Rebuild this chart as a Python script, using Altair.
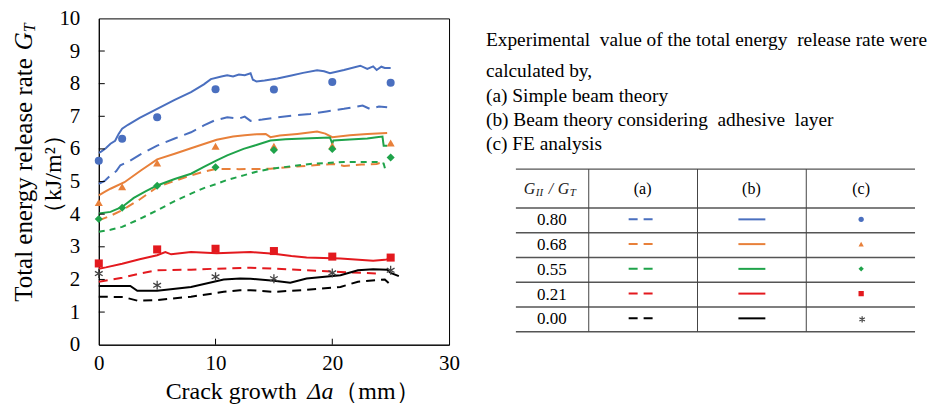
import altair as alt
import pandas as pd

FONT = "Liberation Serif"
W, H = 351, 327

ratios = ["0.80", "0.68", "0.55", "0.21", "0.00"]
line_colors = ["#4A6FBF", "#E8803A", "#1FA34A", "#E3191E", "#000000"]
point_colors = ["#2E75B6", "#E8803A", "#1FA34A", "#E3191E", "#444444"]
dash_patterns = [[13, 7], [9, 6], [6, 5], [9, 6], [9, 6]]

# ---- (b) beam theory considering adhesive layer (solid lines) ----
b080_x = [0, 0.2, 0.6, 1.0, 1.4, 1.7, 2.0, 2.5, 3.5, 5.0, 6.5, 7.9, 9.0, 9.6, 10.5, 11.0, 11.5, 12.0, 12.5, 13.0, 13.2, 13.5, 14.2, 15.3, 16.5, 17.5, 18.7, 19.3, 19.8, 21.0, 22.4, 23.0, 23.5, 23.8, 24.2, 24.5, 25.0]
b080_y = [5.88, 5.92, 6.02, 6.16, 6.25, 6.46, 6.62, 6.74, 6.95, 7.23, 7.5, 7.74, 7.98, 8.14, 8.22, 8.26, 8.22, 8.28, 8.26, 8.32, 8.12, 8.07, 8.10, 8.16, 8.25, 8.33, 8.41, 8.38, 8.32, 8.42, 8.55, 8.45, 8.53, 8.42, 8.52, 8.48, 8.48]
b068_x = [0, 0.5, 1.0, 2.2, 3.6, 5.0, 6.5, 7.9, 9.0, 10.1, 11.5, 12.5, 13.5, 14.3, 14.7, 15.5, 17.0, 18.7, 19.4, 20.0, 21.5, 23.0, 24.7]
b068_y = [4.58, 4.68, 4.78, 4.98, 5.34, 5.68, 5.85, 6.02, 6.15, 6.28, 6.38, 6.42, 6.45, 6.46, 6.36, 6.41, 6.46, 6.53, 6.47, 6.36, 6.42, 6.46, 6.49]
b055_x = [0, 1.0, 2.0, 3.0, 4.0, 5.0, 6.5, 7.9, 9.0, 10.1, 11.0, 12.4, 13.5, 14.7, 16.0, 18.1, 19.8, 20.0, 20.1, 21.5, 23.0, 23.8, 24.3, 24.4, 24.7]
b055_y = [4.02, 4.07, 4.22, 4.5, 4.7, 4.88, 5.08, 5.24, 5.45, 5.65, 5.8, 6.0, 6.12, 6.26, 6.3, 6.33, 6.35, 6.16, 6.26, 6.29, 6.32, 6.36, 6.38, 6.1, 6.1]
b021_x = [0, 0.6, 2.0, 3.5, 5.0, 5.7, 6.2, 7.9, 10.1, 13.0, 15.0, 16.5, 17.8, 20.7, 23.5, 24.5, 25.0]
b021_y = [2.33, 2.37, 2.48, 2.62, 2.74, 2.84, 2.77, 2.84, 2.8, 2.84, 2.79, 2.72, 2.67, 2.64, 2.57, 2.6, 2.64]
b000_x = [0, 2.7, 3.3, 5.0, 7.9, 10.7, 12.1, 13.0, 15.0, 16.4, 17.8, 20.7, 22.2, 23.5, 24.7, 25.0, 25.7]
b000_y = [1.8, 1.8, 1.65, 1.65, 1.77, 2.0, 2.03, 2.02, 1.96, 1.9, 2.03, 2.13, 2.28, 2.31, 2.3, 2.2, 2.1]

# ---- (a) simple beam theory (dashed lines) ----
a080_x = [0, 0.5, 1.0, 1.5, 1.85, 2.5, 3.5, 5.0, 6.5, 7.9, 9.0, 9.9, 11.0, 12.0, 12.5, 13.0, 14.0, 15.3, 16.5, 18.1, 19.5, 21.0, 22.6, 23.2, 24.0, 24.7]
a080_y = [4.93, 5.02, 5.19, 5.32, 5.5, 5.6, 5.82, 6.1, 6.32, 6.51, 6.72, 6.87, 6.97, 6.93, 6.99, 6.86, 6.9, 6.97, 7.02, 7.07, 7.15, 7.23, 7.33, 7.23, 7.3, 7.28]
a068_x = [0, 1.0, 2.0, 3.5, 5.0, 6.5, 7.9, 9.0, 10.1, 12.0, 14.7, 16.5, 18.1, 20.1, 21.0, 22.5, 23.8, 24.4]
a068_y = [3.81, 3.95, 4.12, 4.45, 4.83, 5.02, 5.19, 5.3, 5.39, 5.38, 5.39, 5.45, 5.49, 5.54, 5.48, 5.52, 5.54, 5.6]
a055_x = [0, 1.0, 2.0, 3.5, 5.0, 6.5, 7.9, 9.0, 10.1, 11.0, 12.4, 13.5, 14.7, 16.5, 18.1, 21.0, 23.8, 24.4, 24.6]
a055_y = [3.46, 3.52, 3.61, 3.85, 4.12, 4.4, 4.63, 4.8, 4.93, 5.05, 5.19, 5.3, 5.39, 5.47, 5.54, 5.6, 5.6, 5.55, 5.29]
a021_x = [0, 2.0, 3.5, 5.0, 7.9, 10.1, 13.0, 15.0, 17.8, 20.7, 24.0]
a021_y = [1.93, 2.05, 2.18, 2.28, 2.3, 2.33, 2.36, 2.33, 2.28, 2.23, 2.18]
a000_x = [0, 2.1, 3.3, 5.0, 7.9, 10.7, 12.1, 13.0, 15.0, 17.8, 20.7, 22.2, 24.5, 24.9]
a000_y = [1.47, 1.46, 1.35, 1.37, 1.47, 1.62, 1.67, 1.67, 1.62, 1.68, 1.77, 1.93, 2.0, 1.87]

# ---- (c) FE analysis (markers) ----
fe_x_a = [0, 2, 5, 10, 15, 20, 25]
fe080 = [5.64, 6.31, 6.97, 7.83, 7.82, 8.05, 8.03]
fe068 = [4.36, 4.84, 5.57, 6.08, 6.08, 6.1, 6.18]
fe055 = [3.85, 4.2, 4.87, 5.44, 5.97, 6.0, 5.74]
fe_x_b = [0, 5, 10, 15, 20, 25]
fe021 = [2.49, 2.92, 2.94, 2.87, 2.70, 2.67]
fe000 = [2.18, 1.82, 2.08, 2.02, 2.2, 2.28]

x_ticks = [0, 10, 20, 30]
y_ticks = list(range(0, 11))

text_lines = [
    "Experimental\u00a0 value of the total energy\u00a0 release rate were",
    "calculated by,",
    "(a) Simple beam theory",
    "(b) Beam theory considering\u00a0 adhesive\u00a0 layer",
    "(c) FE analysis",
]
col_headers = ["(a)", "(b)", "(c)"]

ASTERISK = "M0,-1L0,1M-0.87,-0.5L0.87,0.5M-0.87,0.5L0.87,-0.5"


def series_rows(ratio, xs, ys):
    return [dict(ratio=ratio, i=i, x=x, G=g) for i, (x, g) in enumerate(zip(xs, ys))]


solid_df = pd.DataFrame(
    series_rows("0.80", b080_x, b080_y) + series_rows("0.68", b068_x, b068_y)
    + series_rows("0.55", b055_x, b055_y) + series_rows("0.21", b021_x, b021_y)
    + series_rows("0.00", b000_x, b000_y))
dash_df = pd.DataFrame(
    series_rows("0.80", a080_x, a080_y) + series_rows("0.68", a068_x, a068_y)
    + series_rows("0.55", a055_x, a055_y) + series_rows("0.21", a021_x, a021_y)
    + series_rows("0.00", a000_x, a000_y))
fe_df = pd.DataFrame(
    series_rows("0.80", fe_x_a, fe080) + series_rows("0.68", fe_x_a, fe068)
    + series_rows("0.55", fe_x_a, fe055) + series_rows("0.21", fe_x_b, fe021))
fe0_df = pd.DataFrame(series_rows("0.00", fe_x_b, fe000))

X_AX = alt.Axis(values=x_ticks, tickSize=0, labelFont=FONT, labelFontSize=21, labelColor="black",
                labelPadding=8, domainColor="black", grid=False, title=None, labelFlush=False)
Y_AX = alt.Axis(values=y_ticks, tickSize=0, labelFont=FONT, labelFontSize=21, labelColor="black",
                labelPadding=19, domainColor="black", grid=False, title=None, labelFlush=False)


def XE():
    return alt.X("x:Q", scale=alt.Scale(domain=[0, 30], nice=False, zero=False), axis=X_AX)


def YE():
    return alt.Y("G:Q", scale=alt.Scale(domain=[0, 10], nice=False, zero=False), axis=Y_AX)


col_scale = alt.Scale(domain=ratios, range=line_colors)
pcol_scale = alt.Scale(domain=ratios, range=point_colors)

solid = alt.Chart(solid_df).mark_line(strokeWidth=2).encode(
    x=XE(), y=YE(), color=alt.Color("ratio:N", scale=col_scale, legend=None),
    detail="ratio:N", order="i:Q")
dashed = alt.Chart(dash_df).mark_line(strokeWidth=2).encode(
    x=XE(), y=YE(), color=alt.Color("ratio:N", scale=col_scale, legend=None),
    strokeDash=alt.StrokeDash("ratio:N", scale=alt.Scale(domain=ratios, range=dash_patterns), legend=None),
    detail="ratio:N", order="i:Q")
pts = alt.Chart(fe_df).mark_point(filled=True, size=65, opacity=1).encode(
    x=XE(), y=YE(), color=alt.Color("ratio:N", scale=pcol_scale, legend=None),
    shape=alt.Shape("ratio:N", scale=alt.Scale(domain=ratios[:4], range=["circle", "triangle-up", "diamond", "square"]), legend=None))
pts0 = alt.Chart(fe0_df).mark_point(shape=ASTERISK, filled=False, size=80, stroke="#444444",
                                     strokeWidth=1.3, opacity=1).encode(x=XE(), y=YE())

ytick_df = pd.DataFrame({"G": y_ticks[1:-1]})
xtick_df = pd.DataFrame({"x": [10, 20]})
yt = alt.Chart(ytick_df).mark_rule(color="black", strokeWidth=1).encode(
    y=YE(), x=alt.value(0), x2=alt.value(6))
xt = alt.Chart(xtick_df).mark_rule(color="black", strokeWidth=1).encode(
    x=XE(), y=alt.value(H), y2=alt.value(H - 6))


def label(txt, px, py, size=24, style="normal", angle=0, align="left", baseline="middle"):
    return alt.Chart(pd.DataFrame({"k": [0]})).mark_text(
        text=txt, font=FONT, fontSize=size, fontStyle=style, angle=angle, align=align,
        baseline=baseline, color="black").encode(x=alt.value(px), y=alt.value(py))


titles = [
    label("Crack growth", 67, 374),
    label("\u0394a", 209, 374, style="italic"),
    label("\uff08mm\uff09", 236, 374),
    label("Total energy release rate", -75, 284, size=25, angle=270),
    label("G", -75, 32, size=25, style="italic", angle=270),
    label("T", -69, 14, size=16, style="italic", angle=270),
    label("\uff08kJ/m\u00b2\uff09", -45, 156, angle=270, align="center"),
]

left = alt.layer(dashed, solid, pts, pts0, yt, xt, *titles).properties(
    width=W, height=H, view=alt.ViewBackground(stroke="black", strokeWidth=1))

# ---------------- right panel: explanatory text and legend table ----------------
RX = alt.X("px:Q", scale=alt.Scale(domain=[470, 931], nice=False, zero=False), axis=None)
RY = alt.Y("py:Q", scale=alt.Scale(domain=[16, 407], nice=False, zero=False, reverse=True), axis=None)

TEXT_X = 486
text_y = [38, 69, 94, 118, 142]
para_df = pd.DataFrame({"px": [TEXT_X] * len(text_lines), "py": text_y, "txt": text_lines})

T_LEFT, T_RIGHT, T_TOP, T_HEAD, ROW_H = 516, 916, 167, 206, 24.8
col_div = [589, 698, 807]
col_cent = [552, 643, 752, 862]
row_c = [T_HEAD + (i + 0.5) * ROW_H for i in range(len(ratios))]
head_c = (T_TOP + T_HEAD) / 2

hl_df = pd.DataFrame({"px": T_LEFT, "px2": T_RIGHT,
                      "py": [T_TOP, T_HEAD] + [T_HEAD + (i + 1) * ROW_H for i in range(len(ratios))]})
vl_df = pd.DataFrame({"px": col_div, "py": T_TOP, "py2": T_HEAD + len(ratios) * ROW_H})
cell_df = pd.DataFrame({"px": col_cent[1:] + [col_cent[0]] * len(ratios),
                        "py": [head_c] * 3 + row_c,
                        "txt": col_headers + ratios,
                        "size": [16] * 3 + [17] * len(ratios)})
head_it_df = pd.DataFrame({"px": [524, 536, 558, 570], "py": [head_c, head_c + 4, head_c, head_c + 4],
                           "txt": ["G", "II", "G", "T"], "size": [16, 11, 16, 11]})
slash_df = pd.DataFrame({"px": [549], "py": [head_c], "txt": ["/"]})
samp_a = pd.DataFrame({"px": col_cent[1] - 14, "px2": col_cent[1] + 12, "py": [r - 1 for r in row_c], "ratio": ratios})
samp_b = pd.DataFrame({"px": col_cent[2] - 13, "px2": col_cent[2] + 14, "py": [r - 1 for r in row_c], "ratio": ratios})
samp_c = pd.DataFrame({"px": col_cent[3], "py": [r - 1 for r in row_c[:4]], "ratio": ratios[:4]})
samp_c0 = pd.DataFrame({"px": [col_cent[3] + 1], "py": [row_c[4]]})

r_para = alt.Chart(para_df).mark_text(align="left", baseline="middle", font=FONT, fontSize=19.4, color="black").encode(
    x=RX, y=RY, text="txt:N")
r_cells = alt.Chart(cell_df).mark_text(align="center", baseline="middle", font=FONT, color="black").encode(
    x=RX, y=RY, text="txt:N", size=alt.Size("size:Q", scale=None))
r_head = alt.Chart(head_it_df).mark_text(align="left", baseline="middle", font=FONT, fontStyle="italic", color="#222").encode(
    x=RX, y=RY, text="txt:N", size=alt.Size("size:Q", scale=None))
r_slash = alt.Chart(slash_df).mark_text(align="left", baseline="middle", font=FONT, fontStyle="italic", fontSize=16, color="#222").encode(
    x=RX, y=RY, text="txt:N")
r_hl = alt.Chart(hl_df).mark_rule(color="#555555", strokeWidth=1.4).encode(x=RX, x2="px2:Q", y=RY)
r_vl = alt.Chart(vl_df).mark_rule(color="#444444", strokeWidth=1).encode(x=RX, y=RY, y2="py2:Q")
r_a = alt.Chart(samp_a).mark_rule(strokeWidth=2, strokeDash=[9, 6]).encode(
    x=RX, x2="px2:Q", y=RY, color=alt.Color("ratio:N", scale=col_scale, legend=None))
r_b = alt.Chart(samp_b).mark_rule(strokeWidth=2).encode(
    x=RX, x2="px2:Q", y=RY, color=alt.Color("ratio:N", scale=col_scale, legend=None))
r_c = alt.Chart(samp_c).mark_point(filled=True, size=28, opacity=1).encode(
    x=RX, y=RY, color=alt.Color("ratio:N", scale=pcol_scale, legend=None),
    shape=alt.Shape("ratio:N", scale=alt.Scale(domain=ratios[:4], range=["circle", "triangle-up", "diamond", "square"]), legend=None))
r_c0 = alt.Chart(samp_c0).mark_point(shape=ASTERISK, filled=False, size=40, stroke="#444444", strokeWidth=1.2, opacity=1).encode(
    x=RX, y=RY)

right = alt.layer(r_hl, r_vl, r_a, r_b, r_c, r_c0, r_para, r_cells, r_head, r_slash).properties(
    width=461, height=391, view=alt.ViewBackground(stroke="transparent"))

chart = alt.hconcat(left, right, spacing=21, bounds="flush").resolve_scale(
    color="independent", shape="independent", strokeDash="independent", size="independent",
    x="independent", y="independent").properties(
    padding={"left": 11, "top": 6, "right": 0, "bottom": 0}, background="white"
).configure(font=FONT).configure_axis(labelFont=FONT).configure_text(font=FONT)

chart.save("out.html", embed_options={"renderer": "svg", "actions": False})
